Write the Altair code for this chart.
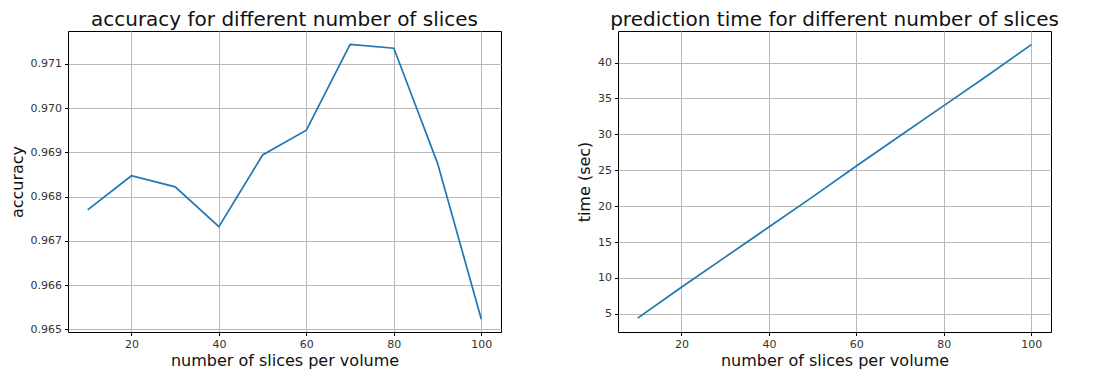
import altair as alt
import pandas as pd

slices = [10, 20, 30, 40, 50, 60, 70, 80, 90, 100]
accuracy = [0.96770, 0.96847, 0.96822, 0.96732, 0.96894, 0.96950,
            0.97144, 0.97135, 0.96875, 0.96523]
pred_time = [4.4, 8.7, 12.9, 17.1, 21.3, 25.6, 29.8, 34.0, 38.2, 42.5]

x_ticks = [20, 40, 60, 80, 100]
acc_ticks = [0.965, 0.966, 0.967, 0.968, 0.969, 0.970, 0.971]
time_ticks = [5, 10, 15, 20, 25, 30, 35, 40]

df = pd.DataFrame({"slices": slices, "accuracy": accuracy, "time": pred_time})

FONT = "DejaVu Sans"
LINE = "#1f77b4"

x_enc = alt.X(
    "slices:Q",
    scale=alt.Scale(domain=[5.5, 104.5], nice=False, zero=False),
    axis=alt.Axis(values=x_ticks, title="number of slices per volume"),
)

left = alt.Chart(df).mark_line(color=LINE, strokeWidth=1.7).encode(
    x=x_enc,
    y=alt.Y(
        "accuracy:Q",
        scale=alt.Scale(domain=[0.96494, 0.97174], nice=False, zero=False),
        axis=alt.Axis(values=acc_ticks, format=".3f", title="accuracy"),
    ),
).properties(width=433, height=301, title="accuracy for different number of slices")

right = alt.Chart(df).mark_line(color=LINE, strokeWidth=1.7).encode(
    x=x_enc,
    y=alt.Y(
        "time:Q",
        scale=alt.Scale(domain=[2.47, 44.4], nice=False, zero=False),
        axis=alt.Axis(values=time_ticks, format="d", title="time (sec)"),
    ),
).properties(width=433, height=301, title="prediction time for different number of slices")

chart = alt.hconcat(left, right, spacing=74).properties(
    padding={"left": 0, "top": 1, "right": 0, "bottom": 0}
).configure_view(
    stroke="#000000", strokeWidth=1
).configure_axis(
    labelFont=FONT, labelFontSize=11, labelColor="#333333",
    titleFont=FONT, titleFontSize=16, titleFontWeight="normal", titleColor="#111111",
    tickColor="#000000", tickSize=3.5, labelPadding=3, domain=False,
    grid=True, gridColor="#b8b8b8", gridWidth=1,
).configure_axisY(
    titlePadding=5
).configure_axisX(
    titlePadding=3
).configure_title(
    font=FONT, fontSize=20, fontWeight="normal", color="#111111", offset=1
)

chart.save("out.html", embed_options={"renderer": "svg", "actions": False})
